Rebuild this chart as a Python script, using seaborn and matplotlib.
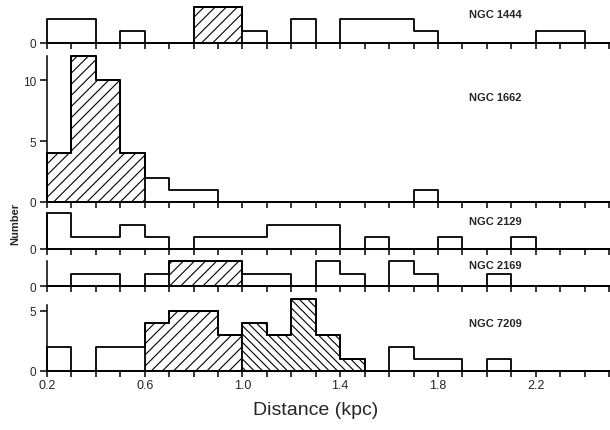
import numpy as np
import pandas as pd
import matplotlib
matplotlib.use("Agg")
import matplotlib.pyplot as plt
import seaborn as sns

# distance bins, 0.1 kpc wide
bin_edges = [round(0.2 + 0.1 * k, 1) for k in range(24)]
bin_mids = [round(e + 0.05, 2) for e in bin_edges[:-1]]

clusters = ["NGC 1444", "NGC 1662", "NGC 2129", "NGC 2169", "NGC 7209"]

counts_1444 = [2, 2, 0, 1, 0, 0, 3, 3, 1, 0, 2, 0, 2, 2, 2, 1, 0, 0, 0, 0, 1, 1, 0]
counts_1662 = [4, 12, 10, 4, 2, 1, 1, 0, 0, 0, 0, 0, 0, 0, 0, 1, 0, 0, 0, 0, 0, 0, 0]
counts_2129 = [3, 1, 1, 2, 1, 0, 1, 1, 1, 2, 2, 2, 0, 1, 0, 0, 1, 0, 0, 1, 0, 0, 0]
counts_2169 = [0, 1, 1, 0, 1, 2, 2, 2, 1, 1, 0, 2, 1, 0, 2, 1, 0, 0, 1, 0, 0, 0, 0]
counts_7209 = [2, 0, 2, 2, 4, 5, 5, 3, 4, 3, 6, 3, 1, 0, 2, 1, 1, 0, 1, 0, 0, 0, 0]

# hatched (cluster) ranges in kpc
hatch_1444 = [(0.8, 1.0, "///")]
hatch_1662 = [(0.2, 0.6, "///")]
hatch_2129 = []
hatch_2169 = [(0.7, 1.0, "///")]
hatch_7209 = [(0.6, 1.0, "///"), (1.0, 1.5, "\\\\\\\\")]

all_counts = [counts_1444, counts_1662, counts_2129, counts_2169, counts_7209]
all_hatch = [hatch_1444, hatch_1662, hatch_2129, hatch_2169, hatch_7209]
y_ticks = [[0], [0, 5, 10], [0], [0], [0, 5]]
y_max = [3, 12, 3, 2, 6]

sns.set_style("white")
plt.rcParams["font.family"] = ["Liberation Sans", "DejaVu Sans"]
plt.rcParams["hatch.linewidth"] = 0.8

W, H = 610, 431
fig = plt.figure(figsize=(W / 100, H / 100), dpi=100)

# panel layout in pixels: (baseline y, top y), spine top, label y (axes frac)
layout = [(44, 8), (203, 57), (250, 214), (287, 262), (372, 300)]
spine_top = [None, 12, 3, 2, 5.5]
label_y = [0.8, 0.72, 0.78, 0.84, 0.67]
x0, x1 = 47, 609
tick_pos = bin_edges

lw = 1.3
for i, name in enumerate(clusters):
    base, top = layout[i]
    ax = fig.add_axes([x0 / W, 1 - base / H, (x1 - x0) / W, (base - top) / H])
    df = pd.DataFrame({"d": bin_mids, "n": all_counts[i]})

    # hatched parts
    for lo, hi, hp in all_hatch[i]:
        sub = df[(df.d > lo) & (df.d < hi)]
        edges = [e for e in bin_edges if lo - 1e-6 <= e <= hi + 1e-6]
        sns.histplot(data=sub, x="d", weights="n", bins=edges, element="step",
                     fill=True, color="black", facecolor="white",
                     edgecolor="black", hatch=hp, linewidth=lw,
                     clip_on=False, ax=ax)

    # outline of whole histogram
    sns.histplot(data=df, x="d", weights="n", bins=bin_edges, element="step",
                 fill=True, color="black", facecolor="none",
                 edgecolor="black", linewidth=lw, clip_on=False, ax=ax)

    ax.set_xlim(0.2, 2.5)
    ax.set_ylim(0, y_max[i])
    ax.set_xlabel("")
    ax.set_ylabel("")
    ax.set_xticks(tick_pos)
    if i == len(clusters) - 1:
        ax.set_xticklabels([f"{t:.1f}" if k % 4 == 0 else ""
                            for k, t in enumerate(tick_pos)])
    else:
        ax.set_xticklabels([])
    ax.set_yticks(y_ticks[i])
    ax.tick_params(axis="both", direction="out", length=4, width=1.1,
                   color="black", labelsize=8.5, pad=3,
                   bottom=True, left=True)
    ax.tick_params(axis="x", labelsize=9, pad=2)
    ax.tick_params(axis="y", length=5)

    for s in ["top", "right"]:
        ax.spines[s].set_visible(False)
    ax.spines["bottom"].set_linewidth(1.1)
    ax.spines["bottom"].set_color("black")
    if spine_top[i] is None:
        ax.spines["left"].set_visible(False)
    else:
        ax.spines["left"].set_bounds(0, spine_top[i])
        ax.spines["left"].set_linewidth(1.1)
        ax.spines["left"].set_color("black")
    ax.patch.set_alpha(0)

    ax.text(1.925, label_y[i], name, transform=ax.get_xaxis_transform(),
            ha="left", va="center", fontsize=8, fontweight="bold")

fig.text(15 / W, 1 - 224 / H, "Number", rotation=90, ha="center", va="center",
         fontsize=8, fontweight="bold")
fig.text(316 / W, 1 - 411 / H, "Distance (kpc)", ha="center", va="center",
         fontsize=14)

fig.savefig("out.png", dpi=100)
